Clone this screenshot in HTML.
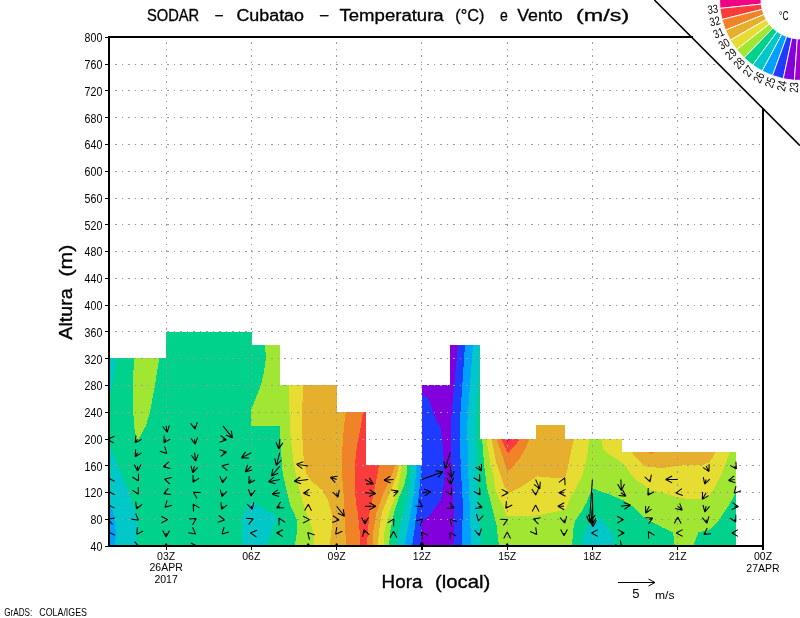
<!DOCTYPE html>
<html><head><meta charset="utf-8"><title>SODAR - Cubatao</title>
<style>
html,body{margin:0;padding:0;background:#fff;}
body{width:800px;height:618px;overflow:hidden;}
svg{display:block}
text{font-family:"Liberation Sans","DejaVu Sans",sans-serif;fill:#000;}
.title{font-size:16px;stroke:#000;stroke-width:0.3px;}
.ax text{font-size:12px;}
.xl text{font-size:10.5px;}
.big{font-size:19px;stroke:#000;stroke-width:0.35px;}
.cb,.cb text{font-size:12px;}
.cbu{font-size:12.5px;}
.s5{font-size:13px;}
.ms{font-size:11px;}
.foot{font-size:10.5px;}
</style></head><body>
<svg width="800" height="618" viewBox="0 0 800 618">
<rect width="800" height="618" fill="#fff"/>
<g shape-rendering="crispEdges">
<polygon points="109.2,358.2 166.2,358.2 166.2,331.6 251.5,331.6 251.5,345.0 279.8,345.0 279.8,385.2 337.0,385.2 337.0,412.2 365.9,412.2 365.9,465.2 422.2,465.2 422.2,385.2 450.2,385.2 450.2,345.0 479.7,345.0 479.7,439.0 536.0,439.0 536.0,425.4 564.7,425.4 564.7,439.0 622.0,439.0 622.0,452.0 736.0,452.0 736.0,546.0 109.2,546.0" fill="#00d28c" />
<polygon points="109.0,358.2 115.0,358.2 114.5,370.0 111.5,391.0 110.2,393.0 109.0,393.0" fill="#00c8c8" />
<polygon points="109.0,443.5 109.6,444.8 116.5,463.5 122.8,477.0 129.0,492.0 135.2,512.5 138.4,522.5 137.1,535.0 136.5,546.0 109.0,546.0" fill="#00c8c8" />
<polygon points="109.0,504.5 109.6,505.6 112.8,511.2 115.2,525.0 115.9,535.0 114.6,546.0 109.0,546.0" fill="#00a0ff" />
<polygon points="133.7,358.2 159.2,358.2 155.0,385.0 150.0,412.0 145.9,426.0 137.1,441.6 134.0,426.0 133.0,405.0" fill="#a0e632" />
<polygon points="242.0,546.0 242.0,517.5 251.4,501.2 277.8,516.9 266.0,546.0" fill="#00c8c8" />
<polygon points="265.0,345.0 266.0,358.0 264.0,372.0 261.0,385.0 253.0,405.0 250.5,412.0 250.5,418.0 251.0,425.8 279.5,425.8 280.0,430.0 282.0,466.0 283.0,475.0 287.0,492.0 290.2,505.0 293.0,511.0 296.5,518.8 297.2,530.0 294.8,546.0 389.0,546.0 390.2,531.2 394.0,512.5 400.9,492.5 404.0,486.0 406.5,475.0 406.5,465.2 365.9,465.2 365.9,412.2 337.0,412.2 337.0,385.2 279.8,385.2 279.8,345.0" fill="#a0e632" />
<polygon points="288.8,385.2 289.5,412.0 290.0,430.0 294.0,466.0 300.0,492.0 304.0,506.2 309.0,518.8 312.8,531.2 314.6,546.0 383.4,546.0 384.6,531.2 389.0,512.5 397.0,492.5 402.1,465.2 365.9,465.2 365.9,412.2 337.0,412.2 337.0,385.2" fill="#e6dc32" />
<polygon points="303.3,385.2 302.0,412.0 302.0,430.0 303.0,450.0 304.0,462.2 306.5,473.5 311.5,481.2 322.8,490.5 327.8,500.0 331.5,512.5 332.1,525.0 329.6,546.0 377.8,546.0 379.0,531.2 382.0,512.5 390.2,492.0 396.5,476.0 399.0,465.2 365.9,465.2 365.9,412.2 337.0,412.2 337.0,385.2" fill="#e6af2d" />
<polygon points="345.8,412.2 344.0,426.0 342.1,451.0 342.1,476.0 343.4,490.0 344.0,503.0 345.2,525.0 345.9,546.0 372.8,546.0 373.4,531.2 376.5,512.5 384.0,492.0 391.5,476.0 395.2,465.2 365.9,465.2 365.9,412.2" fill="#f08228" />
<polygon points="362.9,412.2 360.9,426.0 357.1,444.8 354.6,467.0 354.6,482.0 355.9,503.0 357.8,512.5 359.6,531.2 360.2,546.0 367.1,546.0 367.8,531.2 369.6,512.5 374.0,492.0 377.1,476.0 379.0,465.2 365.9,465.2 365.9,412.2" fill="#fa3c3c" />
<polygon points="410.9,465.2 410.9,475.0 407.8,493.8 404.0,512.5 400.2,525.0 396.5,546.0 481.5,546.0 479.0,512.5 477.8,503.0 477.1,476.0 476.5,451.0 475.9,426.0 477.0,405.0 478.5,385.0 479.7,370.0 479.7,345.0 450.2,345.0 450.2,385.2 422.2,385.2 422.2,465.2" fill="#00c8c8" />
<polygon points="415.9,465.2 415.9,475.0 414.0,493.8 408.4,525.0 404.6,546.0 470.9,546.0 470.2,512.5 469.6,503.0 468.4,476.0 467.8,451.0 467.1,426.0 470.0,385.0 473.0,345.0 450.2,345.0 450.2,385.2 422.2,385.2 422.2,465.2" fill="#00a0ff" />
<polygon points="420.9,465.2 420.9,475.0 419.0,493.8 415.2,525.0 412.1,546.0 461.5,546.0 462.8,512.5 462.8,503.0 461.2,476.0 460.2,451.0 459.6,426.0 462.3,385.0 465.0,345.0 450.2,345.0 450.2,385.2 422.2,385.2 422.2,465.2" fill="#1e3cff" />
<polygon points="422.2,385.2 450.2,385.2 450.2,345.0 458.0,345.0 454.2,385.0 451.5,415.0 450.9,426.0 450.9,451.0 452.1,476.0 453.4,500.0 454.0,525.0 453.4,546.0 420.2,546.0 422.1,521.2 429.0,516.2 440.9,500.0 443.4,487.5 444.6,476.0 444.0,463.5 442.1,438.5 440.2,426.0 437.0,422.0 433.0,412.0 430.0,402.0 427.0,397.0 422.2,395.0" fill="#8200dc" />
<polygon points="482.1,439.0 484.0,463.5 487.1,488.5 490.5,501.0 496.5,525.0 499.0,546.0 572.2,546.0 572.9,531.2 574.8,521.2 577.5,517.0 581.0,512.5 585.0,505.0 586.0,503.8 591.0,491.2 592.5,488.1 600.0,491.2 611.0,495.0 622.5,500.0 625.0,501.2 635.0,508.0 637.5,511.2 642.5,516.0 650.0,521.0 662.5,527.5 673.1,532.5 674.7,546.0 693.1,546.0 697.5,535.0 698.1,532.5 708.8,530.0 717.5,522.5 725.0,511.2 731.2,501.2 736.0,492.5 736.0,452.0 622.0,452.0 622.0,439.0 564.7,439.0 564.7,425.4 536.0,425.4 536.0,439.0" fill="#a0e632" />
<polygon points="486.5,439.0 490.2,463.5 493.4,475.0 495.2,488.5 499.6,500.0 502.2,503.8 507.2,516.2 521.0,516.2 536.0,515.6 552.2,512.5 563.5,510.0 566.0,508.8 571.0,496.2 575.0,490.0 582.5,475.0 586.9,458.8 588.8,441.0 589.5,439.0 564.7,439.0 564.7,425.4 536.0,425.4 536.0,439.0" fill="#e6dc32" />
<polygon points="601.2,439.0 603.8,450.0 610.0,455.0 618.8,460.0 626.2,466.9 631.2,475.0 637.5,481.2 645.0,485.5 650.0,490.0 662.5,492.7 677.5,497.5 687.5,498.8 702.5,498.5 710.0,494.5 715.0,486.5 720.0,477.5 725.0,465.0 730.0,452.0 622.0,452.0 622.0,439.0" fill="#e6dc32" />
<polygon points="491.5,439.0 496.5,463.5 501.0,476.0 504.5,487.0 509.5,492.7 521.0,487.0 533.5,478.6 537.2,476.4 546.0,477.0 556.0,478.2 565.4,477.7 567.9,467.2 571.0,451.0 574.1,439.0 564.7,439.0 564.7,425.4 536.0,425.4 536.0,439.0" fill="#e6af2d" />
<polygon points="631.2,452.0 637.5,458.8 645.0,466.2 650.0,467.0 662.5,468.0 675.0,466.2 687.5,465.0 702.5,465.0 708.8,462.5 712.5,457.5 715.6,452.0" fill="#e6af2d" />
<polygon points="496.6,439.0 502.8,457.2 507.2,471.6 512.2,467.2 519.8,458.5 525.4,448.5 529.1,439.0" fill="#f08228" />
<polygon points="648.0,452.0 651.0,454.0 654.5,452.0" fill="#f08228" />
<polygon points="501.0,439.0 507.9,453.5 520.4,439.0" fill="#fa3c3c" />
<polygon points="506.0,439.0 507.5,442.9 509.8,439.0" fill="#f00082" />
<polygon points="582.2,546.0 583.5,533.8 589.1,525.0 593.5,520.0 600.0,518.8 606.2,525.0 612.5,533.8 615.6,546.0" fill="#00c8c8" />
</g>
<g stroke="#9a9a9a" stroke-width="1" stroke-dasharray="1.6 4.9" fill="none" shape-rendering="crispEdges"><line x1="115.0" y1="519.5" x2="763.0" y2="519.5"/><line x1="115.0" y1="492.5" x2="763.0" y2="492.5"/><line x1="115.0" y1="465.5" x2="763.0" y2="465.5"/><line x1="115.0" y1="439.5" x2="763.0" y2="439.5"/><line x1="115.0" y1="412.5" x2="763.0" y2="412.5"/><line x1="115.0" y1="385.5" x2="763.0" y2="385.5"/><line x1="115.0" y1="358.5" x2="763.0" y2="358.5"/><line x1="115.0" y1="331.5" x2="763.0" y2="331.5"/><line x1="115.0" y1="305.5" x2="763.0" y2="305.5"/><line x1="115.0" y1="278.5" x2="763.0" y2="278.5"/><line x1="115.0" y1="251.5" x2="763.0" y2="251.5"/><line x1="115.0" y1="224.5" x2="763.0" y2="224.5"/><line x1="115.0" y1="198.5" x2="763.0" y2="198.5"/><line x1="115.0" y1="171.5" x2="763.0" y2="171.5"/><line x1="115.0" y1="144.5" x2="763.0" y2="144.5"/><line x1="115.0" y1="117.5" x2="763.0" y2="117.5"/><line x1="115.0" y1="90.5" x2="763.0" y2="90.5"/><line x1="115.0" y1="64.5" x2="763.0" y2="64.5"/><line x1="166.1" y1="42.0" x2="166.1" y2="545.7"/><line x1="251.3" y1="42.0" x2="251.3" y2="545.7"/><line x1="336.6" y1="42.0" x2="336.6" y2="545.7"/><line x1="421.9" y1="42.0" x2="421.9" y2="545.7"/><line x1="507.2" y1="42.0" x2="507.2" y2="545.7"/><line x1="592.4" y1="42.0" x2="592.4" y2="545.7"/><line x1="677.7" y1="42.0" x2="677.7" y2="545.7"/></g>
<clipPath id="pc"><rect x="109" y="37" width="654" height="508"/></clipPath><g clip-path="url(#pc)">
<path d="M109.2 439.3 L107.7 439.2 M107.7 439.2 L114.4 436.3 M107.7 439.2 L113.8 443.1 M109.2 479.5 L108.1 477.8 M108.1 477.8 L114.5 481.3 M108.1 477.8 L108.7 485.0 M109.2 492.8 L108.1 491.2 M108.1 491.2 L114.5 494.7 M108.1 491.2 L108.7 498.4 M109.2 506.2 L108.1 504.6 M108.1 504.6 L114.5 508.1 M108.1 504.6 L108.7 511.8 M109.2 519.6 L107.8 519.1 M107.8 519.1 L115.0 518.1 M107.8 519.1 L112.7 524.5 M109.2 533.0 L108.4 531.8 M108.4 531.8 L114.8 535.3 M108.4 531.8 L109.0 539.0 M137.6 439.3 L135.2 442.8 M135.2 442.8 L136.0 435.6 M135.2 442.8 L141.7 439.4 M137.6 452.7 L135.2 456.7 M135.2 456.7 L135.6 449.4 M135.2 456.7 L141.5 452.9 M137.6 466.1 L137.6 471.1 M137.6 471.1 L134.2 464.6 M137.6 471.1 L141.1 464.6 M137.6 479.5 L138.5 481.0 M138.5 481.0 L132.4 477.0 M138.5 481.0 L138.5 473.7 M137.6 492.8 L138.3 494.2 M138.3 494.2 L132.3 490.1 M138.3 494.2 L138.3 486.9 M137.6 506.2 L136.5 509.0 M136.5 509.0 L135.7 501.8 M136.5 509.0 L142.1 504.3 M137.6 519.6 L138.4 520.3 M138.4 520.3 L131.2 518.9 M138.4 520.3 L135.6 513.5 M137.6 533.0 L136.7 534.4 M136.7 534.4 L137.4 527.2 M136.7 534.4 L143.1 531.0 M137.6 546.4 L139.5 547.1 M139.5 547.1 L132.3 548.1 M139.5 547.1 L134.6 541.7 M166.1 425.9 L167.1 432.3 M167.1 432.3 L162.7 426.5 M167.1 432.3 L169.4 425.4 M166.1 439.3 L164.0 442.9 M164.0 442.9 L164.2 435.6 M164.0 442.9 L170.1 439.1 M166.1 452.7 L166.8 453.4 M166.8 453.4 L159.8 451.2 M166.8 453.4 L164.6 446.4 M166.1 466.1 L163.3 466.7 M163.3 466.7 L168.8 461.9 M163.3 466.7 L170.4 468.6 M166.1 479.5 L164.6 479.0 M164.6 479.0 L171.8 477.5 M164.6 479.0 L169.9 484.1 M166.1 492.8 L163.7 493.8 M163.7 493.8 L168.4 488.2 M163.7 493.8 L171.0 494.5 M166.1 506.2 L165.0 507.3 M165.0 507.3 L167.1 500.3 M165.0 507.3 L172.0 505.2 M166.1 519.6 L167.7 519.6 M167.7 519.6 L161.2 523.0 M167.7 519.6 L161.2 516.2 M166.1 533.0 L166.1 537.0 M166.1 537.0 L162.6 530.6 M166.1 537.0 L169.5 530.6 M166.1 546.4 L166.1 543.4 M166.1 543.4 L169.5 549.8 M166.1 543.4 L162.6 549.8 M194.5 425.9 L195.1 429.1 M195.1 429.1 L190.6 423.4 M195.1 429.1 L197.3 422.2 M194.5 439.3 L195.3 444.2 M195.3 444.2 L190.9 438.4 M195.3 444.2 L197.6 437.3 M194.5 452.7 L195.7 461.1 M195.7 461.1 L191.4 455.2 M195.7 461.1 L198.2 454.2 M194.5 466.1 L192.8 472.9 M192.8 472.9 L191.0 465.8 M192.8 472.9 L197.7 467.4 M194.5 479.5 L193.0 482.2 M193.0 482.2 L193.0 474.9 M193.0 482.2 L199.1 478.1 M194.5 492.8 L193.4 492.2 M193.4 492.2 L200.7 492.6 M193.4 492.2 L197.1 498.4 M194.5 506.2 L193.2 504.1 M193.2 504.1 L199.4 507.9 M193.2 504.1 L193.5 511.4 M194.5 519.6 L196.2 518.6 M196.2 518.6 L192.5 524.9 M196.2 518.6 L188.9 519.1 M194.5 533.0 L195.6 533.9 M195.6 533.9 L188.4 532.7 M195.6 533.9 L192.5 527.2 M194.5 546.4 L197.5 546.4 M197.5 546.4 L191.0 549.8 M197.5 546.4 L191.0 543.0 M222.9 425.9 L232.6 437.9 M232.6 437.9 L225.9 435.0 M232.6 437.9 L231.2 430.7 M222.9 439.3 L226.5 439.8 M226.5 439.8 L219.6 442.3 M226.5 439.8 L220.6 435.5 M222.9 452.7 L226.5 452.1 M226.5 452.1 L220.6 456.5 M226.5 452.1 L219.6 449.7 M222.9 466.1 L221.9 465.8 M221.9 465.8 L229.0 463.9 M221.9 465.8 L227.4 470.6 M222.9 479.5 L222.5 482.9 M222.5 482.9 L219.9 476.1 M222.5 482.9 L226.7 476.9 M222.9 492.8 L221.9 496.6 M221.9 496.6 L220.3 489.5 M221.9 496.6 L226.9 491.3 M222.9 506.2 L221.5 509.4 M221.5 509.4 L221.0 502.1 M221.5 509.4 L227.2 504.9 M222.9 519.6 L224.6 519.9 M224.6 519.9 L217.7 522.3 M224.6 519.9 L218.8 515.5 M222.9 533.0 L222.0 533.9 M222.0 533.9 L224.2 527.0 M222.0 533.9 L229.0 531.9 M251.3 452.7 L241.4 457.9 M241.4 457.9 L245.5 451.9 M241.4 457.9 L248.7 457.9 M251.3 466.1 L245.2 472.0 M245.2 472.0 L247.5 465.0 M245.2 472.0 L252.2 470.0 M251.3 479.5 L248.7 483.6 M248.7 483.6 L249.2 476.3 M248.7 483.6 L255.1 480.0 M251.3 492.8 L250.9 496.1 M250.9 496.1 L248.4 489.3 M250.9 496.1 L255.2 490.2 M251.3 506.2 L252.2 509.3 M252.2 509.3 L247.2 504.0 M252.2 509.3 L253.8 502.2 M251.3 519.6 L253.2 518.8 M253.2 518.8 L248.6 524.5 M253.2 518.8 L245.9 518.2 M251.3 533.0 L250.3 532.9 M250.3 532.9 L257.1 530.2 M250.3 532.9 L256.4 537.0 M279.8 439.3 L278.7 448.9 M278.7 448.9 L276.0 442.2 M278.7 448.9 L282.8 442.9 M279.8 452.7 L276.3 465.4 M276.3 465.4 L274.7 458.3 M276.3 465.4 L281.3 460.1 M279.8 466.1 L271.4 476.0 M271.4 476.0 L272.9 468.9 M271.4 476.0 L278.2 473.3 M279.8 479.5 L268.4 481.7 M268.4 481.7 L274.0 477.1 M268.4 481.7 L275.4 483.8 M279.8 492.8 L272.2 494.2 M272.2 494.2 L277.9 489.7 M272.2 494.2 L279.1 496.4 M279.8 506.2 L276.7 507.9 M276.7 507.9 L280.7 501.8 M276.7 507.9 L284.0 507.8 M279.8 519.6 L279.0 518.1 M279.0 518.1 L285.0 522.2 M279.0 518.1 L279.0 525.4 M279.8 533.0 L276.5 532.8 M276.5 532.8 L283.1 529.8 M276.5 532.8 L282.7 536.6 M308.2 466.1 L296.4 464.2 M296.4 464.2 L303.3 461.8 M296.4 464.2 L302.3 468.6 M308.2 479.5 L294.2 481.2 M294.2 481.2 L300.2 477.0 M294.2 481.2 L301.0 483.8 M308.2 492.8 L303.3 493.3 M303.3 493.3 L309.4 489.3 M303.3 493.3 L310.0 496.1 M308.2 506.2 L308.3 504.2 M308.3 504.2 L311.5 510.8 M308.3 504.2 L304.6 510.6 M308.2 519.6 L309.6 519.6 M309.6 519.6 L303.1 523.0 M309.6 519.6 L303.1 516.2 M308.2 533.0 L307.7 532.5 M307.7 532.5 L314.6 535.0 M307.7 532.5 L309.5 539.6 M308.2 546.4 L308.2 543.4 M308.2 543.4 L311.6 549.8 M308.2 543.4 L304.8 549.8 M336.6 479.5 L330.4 477.3 M330.4 477.3 L337.6 476.2 M330.4 477.3 L335.3 482.6 M336.6 492.8 L338.0 497.1 M338.0 497.1 L332.7 492.1 M338.0 497.1 L339.3 489.9 M336.6 506.2 L344.5 516.3 M344.5 516.3 L337.8 513.3 M344.5 516.3 L343.2 509.1 M336.6 519.6 L339.1 519.9 M339.1 519.9 L332.3 522.6 M339.1 519.9 L333.0 515.8 M336.6 533.0 L335.6 534.3 M335.6 534.3 L336.8 527.1 M335.6 534.3 L342.3 531.2 M336.6 546.4 L336.6 543.4 M336.6 543.4 L340.0 549.8 M336.6 543.4 L333.2 549.8 M365.0 479.5 L373.3 484.0 M373.3 484.0 L366.0 483.9 M373.3 484.0 L369.3 477.9 M365.0 492.8 L375.8 493.6 M375.8 493.6 L369.1 496.6 M375.8 493.6 L369.6 489.7 M365.0 506.2 L375.8 506.2 M375.8 506.2 L369.4 509.7 M375.8 506.2 L369.4 502.8 M365.0 519.6 L365.0 523.9 M365.0 523.9 L361.6 517.4 M365.0 523.9 L368.5 517.4 M365.0 533.0 L364.0 529.7 M364.0 529.7 L369.2 534.8 M364.0 529.7 L362.6 536.8 M393.5 479.5 L384.0 480.3 M384.0 480.3 L390.1 476.3 M384.0 480.3 L390.7 483.1 M393.5 492.8 L398.3 491.1 M398.3 491.1 L393.5 496.5 M398.3 491.1 L391.1 490.0 M393.5 519.6 L393.9 518.9 M393.9 518.9 L393.6 526.2 M393.9 518.9 L387.7 522.8 M393.5 533.0 L393.5 531.3 M393.5 531.3 L396.9 537.8 M393.5 531.3 L390.0 537.8 M421.9 479.5 L442.8 471.8 M442.8 471.8 L438.0 477.3 M442.8 471.8 L435.6 470.8 M421.9 492.8 L430.8 491.7 M430.8 491.7 L424.8 495.9 M430.8 491.7 L424.0 489.1 M421.9 506.2 L422.6 506.7 M422.6 506.7 L415.3 506.1 M422.6 506.7 L418.9 500.3 M421.9 519.6 L422.6 518.9 M422.6 518.9 L420.5 525.9 M422.6 518.9 L415.6 521.0 M421.9 533.0 L421.3 532.2 M421.3 532.2 L427.9 535.4 M421.3 532.2 L422.3 539.4 M421.9 546.4 L421.9 541.9 M421.9 541.9 L425.3 548.3 M421.9 541.9 L418.5 548.3 M450.3 452.7 L445.2 468.6 M445.2 468.6 L443.9 461.4 M445.2 468.6 L450.4 463.5 M450.3 466.1 L451.4 478.0 M451.4 478.0 L447.4 471.9 M451.4 478.0 L454.2 471.3 M450.3 479.5 L450.8 484.4 M450.8 484.4 L446.8 478.4 M450.8 484.4 L453.6 477.7 M450.3 492.8 L451.6 495.1 M451.6 495.1 L445.5 491.1 M451.6 495.1 L451.4 487.8 M450.3 506.2 L453.9 508.0 M453.9 508.0 L446.6 508.2 M453.9 508.0 L449.7 502.1 M450.3 519.6 L450.0 519.3 M450.0 519.3 L456.9 521.6 M450.0 519.3 L451.9 526.3 M450.3 533.0 L449.9 532.3 M449.9 532.3 L456.2 536.1 M449.9 532.3 L450.3 539.6 M478.7 466.1 L481.5 471.0 M481.5 471.0 L475.4 467.1 M481.5 471.0 L481.4 463.7 M478.7 479.5 L480.0 481.5 M480.0 481.5 L473.7 477.8 M480.0 481.5 L479.5 474.2 M478.7 492.8 L480.1 495.0 M480.1 495.0 L473.8 491.4 M480.1 495.0 L479.6 487.8 M478.7 506.2 L482.3 507.5 M482.3 507.5 L475.1 508.5 M482.3 507.5 L477.4 502.1 M478.7 519.6 L478.4 521.0 M478.4 521.0 L476.5 513.9 M478.4 521.0 L483.2 515.5 M478.7 533.0 L479.3 535.7 M479.3 535.7 L474.7 530.0 M479.3 535.7 L481.4 528.7 M507.2 492.8 L508.2 492.8 M508.2 492.8 L501.7 496.3 M508.2 492.8 L501.7 489.4 M507.2 506.2 L505.7 508.4 M505.7 508.4 L506.5 501.1 M505.7 508.4 L512.2 505.0 M507.2 519.6 L507.6 519.4 M507.6 519.4 L503.4 525.4 M507.6 519.4 L500.3 519.3 M507.2 533.0 L507.2 532.0 M507.2 532.0 L510.6 538.5 M507.2 532.0 L503.7 538.5 M507.2 546.4 L507.2 543.4 M507.2 543.4 L510.6 549.8 M507.2 543.4 L503.7 549.8 M535.6 479.5 L539.8 488.9 M539.8 488.9 L534.0 484.4 M539.8 488.9 L540.3 481.6 M535.6 492.8 L535.8 495.1 M535.8 495.1 L531.8 489.0 M535.8 495.1 L538.6 488.4 M535.6 506.2 L535.6 505.0 M535.6 505.0 L539.0 511.5 M535.6 505.0 L532.2 511.5 M535.6 519.6 L533.4 518.9 M533.4 518.9 L540.6 517.7 M533.4 518.9 L538.4 524.2 M535.6 533.0 L536.8 534.6 M536.8 534.6 L530.2 531.5 M536.8 534.6 L535.7 527.4 M564.0 479.5 L564.7 477.9 M564.7 477.9 L565.1 485.2 M564.7 477.9 L558.9 482.3 M564.0 492.8 L559.0 492.8 M559.0 492.8 L565.5 489.4 M559.0 492.8 L565.5 496.3 M564.0 506.2 L557.8 506.2 M557.8 506.2 L564.2 502.8 M557.8 506.2 L564.2 509.7 M564.0 519.6 L564.8 523.1 M564.8 523.1 L560.0 517.6 M564.8 523.1 L566.7 516.1 M564.0 533.0 L564.0 535.8 M564.0 535.8 L560.6 529.4 M564.0 535.8 L567.4 529.4 M592.4 479.5 L589.4 522.3 M589.4 522.3 L586.5 515.7 M589.4 522.3 L593.3 516.2 M592.4 492.8 L593.0 526.8 M593.0 526.8 L589.5 520.5 M593.0 526.8 L596.4 520.3 M592.4 506.2 L591.1 521.2 M591.1 521.2 L588.3 514.5 M591.1 521.2 L595.1 515.1 M592.4 519.6 L592.3 524.6 M592.3 524.6 L589.1 518.1 M592.3 524.6 L595.9 518.3 M592.4 533.0 L591.4 533.0 M591.4 533.0 L597.9 529.6 M591.4 533.0 L597.9 536.4 M620.9 479.5 L621.3 490.4 M621.3 490.4 L617.6 484.1 M621.3 490.4 L624.5 483.9 M620.9 492.8 L625.9 496.3 M625.9 496.3 L618.6 495.5 M625.9 496.3 L622.6 489.8 M620.9 506.2 L630.5 505.0 M630.5 505.0 L624.5 509.2 M630.5 505.0 L623.7 502.4 M620.9 519.6 L623.6 519.6 M623.6 519.6 L617.2 523.0 M623.6 519.6 L617.2 516.2 M620.9 533.0 L624.3 533.0 M624.3 533.0 L617.8 536.4 M624.3 533.0 L617.8 529.6 M620.9 546.4 L621.8 547.5 M621.8 547.5 L615.1 544.8 M621.8 547.5 L620.3 540.4 M649.3 479.5 L650.1 481.9 M650.1 481.9 L644.8 476.9 M650.1 481.9 L651.4 474.7 M649.3 492.8 L647.8 495.3 M647.8 495.3 L648.3 488.0 M647.8 495.3 L654.1 491.7 M649.3 506.2 L645.6 513.2 M645.6 513.2 L645.6 505.9 M645.6 513.2 L651.6 509.1 M649.3 519.6 L652.7 517.9 M652.7 517.9 L648.5 523.9 M652.7 517.9 L645.4 517.8 M649.3 533.0 L648.4 531.5 M648.4 531.5 L654.6 535.4 M648.4 531.5 L648.7 538.8 M677.7 479.5 L665.6 479.5 M665.6 479.5 L672.1 476.0 M665.6 479.5 L672.1 482.9 M677.7 492.8 L675.9 493.1 M675.9 493.1 L681.8 488.7 M675.9 493.1 L682.8 495.5 M677.7 506.2 L682.3 510.2 M682.3 510.2 L675.2 508.6 M682.3 510.2 L679.7 503.4 M677.7 519.6 L677.7 516.9 M677.7 516.9 L681.1 523.4 M677.7 516.9 L674.3 523.4 M677.7 533.0 L676.2 533.0 M676.2 533.0 L682.7 529.6 M676.2 533.0 L682.7 536.4 M706.1 466.1 L709.0 471.6 M709.0 471.6 L703.0 467.4 M709.0 471.6 L709.1 464.3 M706.1 479.5 L704.7 484.2 M704.7 484.2 L703.3 477.1 M704.7 484.2 L709.8 479.1 M706.1 492.8 L702.3 499.4 M702.3 499.4 L702.6 492.1 M702.3 499.4 L708.5 495.6 M706.1 506.2 L704.9 512.0 M704.9 512.0 L702.9 505.0 M704.9 512.0 L709.6 506.4 M706.1 519.6 L706.9 523.4 M706.9 523.4 L702.3 517.7 M706.9 523.4 L709.0 516.4 M706.1 533.0 L703.9 534.6 M703.9 534.6 L707.2 528.1 M703.9 534.6 L711.1 533.7 M734.6 466.1 L736.4 469.0 M736.4 469.0 L730.1 465.4 M736.4 469.0 L735.9 461.7 M734.6 479.5 L728.4 480.4 M728.4 480.4 L734.2 476.0 M728.4 480.4 L735.3 482.8 M734.6 492.8 L734.2 493.2 M734.2 493.2 L736.0 486.1 M734.2 493.2 L741.1 490.7 M734.6 506.2 L738.6 506.6 M738.6 506.6 L731.8 509.4 M738.6 506.6 L732.4 502.6 M734.6 519.6 L735.8 522.0 M735.8 522.0 L729.8 517.9 M735.8 522.0 L735.8 514.7 M734.6 533.0 L731.7 533.0 M731.7 533.0 L738.1 529.6 M731.7 533.0 L738.1 536.4" stroke="#000" stroke-width="1.05" fill="none" stroke-linecap="butt"/>
</g>
<polygon points="654.4,0 800,0 800,145.6" fill="#fff"/>
<g stroke="#000" stroke-width="2" fill="none" stroke-linecap="square" shape-rendering="crispEdges">
<path d="M691.3 37.1 L109.2 37.1" stroke-width="2.6"/>
<path d="M109.2 36.9 L109.2 545.7 L763.0 545.7"/>
<path d="M763.0 545.7 L763.0 108.6"/>
</g>
<line x1="654.4" y1="0" x2="800" y2="145.6" stroke="#000" stroke-width="1.6"/>
<g stroke="#000" stroke-width="1.2" shape-rendering="crispEdges"><line x1="104.7" y1="546.5" x2="109.2" y2="546.5"/><line x1="104.7" y1="519.5" x2="109.2" y2="519.5"/><line x1="104.7" y1="492.5" x2="109.2" y2="492.5"/><line x1="104.7" y1="465.5" x2="109.2" y2="465.5"/><line x1="104.7" y1="439.5" x2="109.2" y2="439.5"/><line x1="104.7" y1="412.5" x2="109.2" y2="412.5"/><line x1="104.7" y1="385.5" x2="109.2" y2="385.5"/><line x1="104.7" y1="358.5" x2="109.2" y2="358.5"/><line x1="104.7" y1="331.5" x2="109.2" y2="331.5"/><line x1="104.7" y1="305.5" x2="109.2" y2="305.5"/><line x1="104.7" y1="278.5" x2="109.2" y2="278.5"/><line x1="104.7" y1="251.5" x2="109.2" y2="251.5"/><line x1="104.7" y1="224.5" x2="109.2" y2="224.5"/><line x1="104.7" y1="198.5" x2="109.2" y2="198.5"/><line x1="104.7" y1="171.5" x2="109.2" y2="171.5"/><line x1="104.7" y1="144.5" x2="109.2" y2="144.5"/><line x1="104.7" y1="117.5" x2="109.2" y2="117.5"/><line x1="104.7" y1="90.5" x2="109.2" y2="90.5"/><line x1="104.7" y1="64.5" x2="109.2" y2="64.5"/><line x1="104.7" y1="37.5" x2="109.2" y2="37.5"/><line x1="166.1" y1="545.7" x2="166.1" y2="549.7"/><line x1="251.3" y1="545.7" x2="251.3" y2="549.7"/><line x1="336.6" y1="545.7" x2="336.6" y2="549.7"/><line x1="421.9" y1="545.7" x2="421.9" y2="549.7"/><line x1="507.2" y1="545.7" x2="507.2" y2="549.7"/><line x1="592.4" y1="545.7" x2="592.4" y2="549.7"/><line x1="677.7" y1="545.7" x2="677.7" y2="549.7"/><line x1="763.0" y1="545.7" x2="763.0" y2="549.7"/></g>
<polygon points="761.0,-1.4 719.5,-2.8 719.9,8.4 761.2,4.1" fill="#f00082" stroke="#fff" stroke-width="0.9"/>
<polygon points="761.2,4.1 719.9,8.4 721.9,19.5 762.2,9.4" fill="#fa3c3c" stroke="#fff" stroke-width="0.9"/>
<polygon points="762.2,9.4 721.9,19.5 725.4,30.2 763.8,14.6" fill="#f08228" stroke="#fff" stroke-width="0.9"/>
<polygon points="763.8,14.6 725.4,30.2 730.3,40.2 766.2,19.5" fill="#e6af2d" stroke="#fff" stroke-width="0.9"/>
<polygon points="766.2,19.5 730.3,40.2 736.6,49.6 769.3,24.0" fill="#e6dc32" stroke="#fff" stroke-width="0.9"/>
<polygon points="769.3,24.0 736.6,49.6 744.1,57.9 772.9,28.1" fill="#a0e632" stroke="#fff" stroke-width="0.9"/>
<polygon points="772.9,28.1 744.1,57.9 752.7,65.1 777.1,31.6" fill="#00d28c" stroke="#fff" stroke-width="0.9"/>
<polygon points="777.1,31.6 752.7,65.1 762.2,71.1 781.7,34.4" fill="#00c8c8" stroke="#fff" stroke-width="0.9"/>
<polygon points="781.7,34.4 762.2,71.1 772.5,75.6 786.7,36.6" fill="#00a0ff" stroke="#fff" stroke-width="0.9"/>
<polygon points="786.7,36.6 772.5,75.6 783.3,78.7 791.9,38.1" fill="#1e3cff" stroke="#fff" stroke-width="0.9"/>
<polygon points="791.9,38.1 783.3,78.7 794.4,80.3 797.3,38.9" fill="#8200dc" stroke="#fff" stroke-width="0.9"/>
<polygon points="797.3,38.9 794.4,80.3 805.6,80.3 802.7,38.9" fill="#a000c8" stroke="#fff" stroke-width="0.9"/>
<g class="cb"><text transform="translate(718.0 8.6) rotate(-6.0)" x="-10.5" y="4.2" textLength="10.5" lengthAdjust="spacingAndGlyphs">33</text><text transform="translate(720.0 20.0) rotate(-14.0)" x="-10.5" y="4.2" textLength="10.5" lengthAdjust="spacingAndGlyphs">32</text><text transform="translate(723.5 30.9) rotate(-22.0)" x="-10.5" y="4.2" textLength="10.5" lengthAdjust="spacingAndGlyphs">31</text><text transform="translate(728.6 41.2) rotate(-30.0)" x="-10.5" y="4.2" textLength="10.5" lengthAdjust="spacingAndGlyphs">30</text><text transform="translate(735.0 50.8) rotate(-38.0)" x="-10.5" y="4.2" textLength="10.5" lengthAdjust="spacingAndGlyphs">29</text><text transform="translate(742.7 59.3) rotate(-46.0)" x="-10.5" y="4.2" textLength="10.5" lengthAdjust="spacingAndGlyphs">28</text><text transform="translate(751.5 66.7) rotate(-54.0)" x="-10.5" y="4.2" textLength="10.5" lengthAdjust="spacingAndGlyphs">27</text><text transform="translate(761.3 72.8) rotate(-62.0)" x="-10.5" y="4.2" textLength="10.5" lengthAdjust="spacingAndGlyphs">26</text><text transform="translate(771.8 77.5) rotate(-70.0)" x="-10.5" y="4.2" textLength="10.5" lengthAdjust="spacingAndGlyphs">25</text><text transform="translate(782.8 80.7) rotate(-78.0)" x="-10.5" y="4.2" textLength="10.5" lengthAdjust="spacingAndGlyphs">24</text><text transform="translate(794.2 82.3) rotate(-86.0)" x="-10.5" y="4.2" textLength="10.5" lengthAdjust="spacingAndGlyphs">23</text></g>
<text class="cbu" x="779" y="19.6" textLength="9.5" lengthAdjust="spacingAndGlyphs">°C</text>
<text class="title" y="21"><tspan x="146.9" textLength="52.3" lengthAdjust="spacingAndGlyphs">SODAR</tspan> <tspan x="214.5" textLength="9.0" lengthAdjust="spacingAndGlyphs">−</tspan> <tspan x="236.4" textLength="67.6" lengthAdjust="spacingAndGlyphs">Cubatao</tspan> <tspan x="319.0" textLength="10.0" lengthAdjust="spacingAndGlyphs">−</tspan> <tspan x="339.5" textLength="104.2" lengthAdjust="spacingAndGlyphs">Temperatura</tspan> <tspan x="455.3" textLength="29.0" lengthAdjust="spacingAndGlyphs">(°C)</tspan> <tspan x="500.0" textLength="7.8" lengthAdjust="spacingAndGlyphs">e</tspan> <tspan x="517.2" textLength="45.5" lengthAdjust="spacingAndGlyphs">Vento</tspan> <tspan x="576.0" textLength="53.2" lengthAdjust="spacingAndGlyphs">(m/s)</tspan></text>
<g class="ax"><text x="90.5" y="551.0" textLength="11.8" lengthAdjust="spacingAndGlyphs">40</text><text x="90.5" y="524.2" textLength="11.8" lengthAdjust="spacingAndGlyphs">80</text><text x="84.6" y="497.4" textLength="17.7" lengthAdjust="spacingAndGlyphs">120</text><text x="84.6" y="470.7" textLength="17.7" lengthAdjust="spacingAndGlyphs">160</text><text x="84.6" y="443.9" textLength="17.7" lengthAdjust="spacingAndGlyphs">200</text><text x="84.6" y="417.1" textLength="17.7" lengthAdjust="spacingAndGlyphs">240</text><text x="84.6" y="390.3" textLength="17.7" lengthAdjust="spacingAndGlyphs">280</text><text x="84.6" y="363.5" textLength="17.7" lengthAdjust="spacingAndGlyphs">320</text><text x="84.6" y="336.8" textLength="17.7" lengthAdjust="spacingAndGlyphs">360</text><text x="84.6" y="310.0" textLength="17.7" lengthAdjust="spacingAndGlyphs">400</text><text x="84.6" y="283.2" textLength="17.7" lengthAdjust="spacingAndGlyphs">440</text><text x="84.6" y="256.4" textLength="17.7" lengthAdjust="spacingAndGlyphs">480</text><text x="84.6" y="229.7" textLength="17.7" lengthAdjust="spacingAndGlyphs">520</text><text x="84.6" y="202.9" textLength="17.7" lengthAdjust="spacingAndGlyphs">560</text><text x="84.6" y="176.1" textLength="17.7" lengthAdjust="spacingAndGlyphs">600</text><text x="84.6" y="149.3" textLength="17.7" lengthAdjust="spacingAndGlyphs">640</text><text x="84.6" y="122.5" textLength="17.7" lengthAdjust="spacingAndGlyphs">680</text><text x="84.6" y="95.8" textLength="17.7" lengthAdjust="spacingAndGlyphs">720</text><text x="84.6" y="69.0" textLength="17.7" lengthAdjust="spacingAndGlyphs">760</text><text x="84.6" y="42.2" textLength="17.7" lengthAdjust="spacingAndGlyphs">800</text></g>
<g class="ax xl"><text x="166.1" y="560" text-anchor="middle">03Z</text><text x="251.3" y="560" text-anchor="middle">06Z</text><text x="336.6" y="560" text-anchor="middle">09Z</text><text x="421.9" y="560" text-anchor="middle">12Z</text><text x="507.2" y="560" text-anchor="middle">15Z</text><text x="592.4" y="560" text-anchor="middle">18Z</text><text x="677.7" y="560" text-anchor="middle">21Z</text><text x="763.0" y="560" text-anchor="middle">00Z</text><text x="166.1" y="571.3" text-anchor="middle">26APR</text><text x="166.1" y="582.5" text-anchor="middle">2017</text><text x="763.0" y="572" text-anchor="middle">27APR</text></g>
<text class="big" y="587.6"><tspan x="381.6" textLength="40.8" lengthAdjust="spacingAndGlyphs">Hora</tspan> <tspan x="435" textLength="55.4" lengthAdjust="spacingAndGlyphs">(local)</tspan></text>
<text class="big" transform="translate(72 339.7) rotate(-90)"><tspan x="0" textLength="51.4" lengthAdjust="spacingAndGlyphs">Altura</tspan> <tspan x="63.1" textLength="32" lengthAdjust="spacingAndGlyphs">(m)</tspan></text>
<g stroke="#000" stroke-width="1" fill="none"><path d="M618 582.5 H655 M648.5 579 L655 582.5 L648.5 586"/></g>
<text class="s5" x="632.3" y="597.5">5</text>
<text class="ms" x="655" y="598.6" textLength="19.5" lengthAdjust="spacingAndGlyphs">m/s</text>
<text class="foot" y="615.8"><tspan x="4.2" textLength="28" lengthAdjust="spacingAndGlyphs">GrADS:</tspan> <tspan x="39.3" textLength="47.7" lengthAdjust="spacingAndGlyphs">COLA/IGES</tspan></text>
</svg>
</body></html>
